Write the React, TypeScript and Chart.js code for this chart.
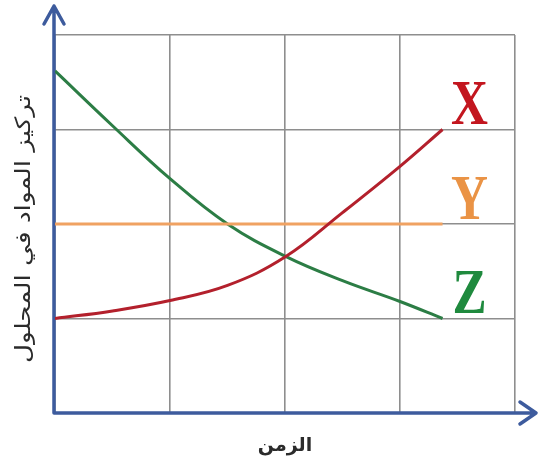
import React, { useEffect, useRef } from "react";
import { Chart, registerables } from "chart.js";

Chart.register(...registerables);

const timeValues = [0, 0.5, 1, 1.5, 2, 2.5, 3, 3.37];
const seriesX = [1.0, 1.08, 1.19, 1.35, 1.65, 2.12, 2.61, 3.0];
const seriesY = [2.0, 2.0, 2.0, 2.0, 2.0, 2.0, 2.0, 2.0];
const seriesZ = [3.62, 3.04, 2.48, 2.0, 1.66, 1.4, 1.18, 1.0];
const seriesNames = ["X", "Y", "Z"];
const lineColors = ["#b3202c", "#f0a262", "#2c7d45"];
const labelColors = ["#c3161f", "#ea9345", "#1f8a3e"];
const xTitle = "الزمن";
const yTitle = "تركيز المواد في المحلول";

const toPoints = (vals: number[]) => vals.map((v, i) => ({ x: timeValues[i], y: v }));

const overlay = {
  id: "overlay",
  beforeDatasetsDraw(chart: any) {
    const { ctx, chartArea } = chart;
    const ox = chartArea.left - 1;
    const oy = chartArea.bottom;
    ctx.save();
    ctx.strokeStyle = "#3d5b9d";
    ctx.lineWidth = 3.5;
    ctx.lineCap = "round";
    ctx.lineJoin = "round";
    ctx.beginPath();
    ctx.moveTo(ox, oy);
    ctx.lineTo(ox, 6);
    ctx.moveTo(ox - 10, 24);
    ctx.lineTo(ox, 6);
    ctx.lineTo(ox + 10, 24);
    ctx.moveTo(ox, oy);
    ctx.lineTo(536, oy);
    ctx.moveTo(520, oy - 11);
    ctx.lineTo(536, oy);
    ctx.lineTo(520, oy + 11);
    ctx.stroke();
    ctx.restore();
  },
  afterDatasetsDraw(chart: any) {
    const { ctx } = chart;
    ctx.save();
    chart.data.datasets.forEach((ds: any, i: number) => {
      const meta = chart.getDatasetMeta(i);
      const last = meta.data[meta.data.length - 1];
      ctx.save();
      ctx.translate(last.x + 27, last.y - 25);
      ctx.scale(0.8, 1);
      ctx.fillStyle = labelColors[i];
      ctx.font = "bold 64px 'Liberation Serif'";
      ctx.textAlign = "center";
      ctx.textBaseline = "middle";
      ctx.fillText(seriesNames[i], 0, 3);
      ctx.restore();
    });
    ctx.fillStyle = "#2b2b2b";
    ctx.font = "bold 19px 'DejaVu Sans'";
    ctx.textAlign = "center";
    ctx.textBaseline = "middle";
    ctx.fillText(xTitle, 285, 446);
    ctx.save();
    ctx.translate(25, 229);
    ctx.rotate(-Math.PI / 2);
    ctx.font = "21px 'DejaVu Sans'";
    const w = ctx.measureText(yTitle).width;
    ctx.scale(268 / w, 1);
    ctx.fillText(yTitle, 0, 0);
    ctx.restore();
    ctx.restore();
  },
};

export default function App() {
  const ref = useRef<HTMLCanvasElement>(null);
  useEffect(() => {
    if (!ref.current) return;
    const datasets = [seriesX, seriesY, seriesZ].map((vals, i) => ({
      label: seriesNames[i],
      data: toPoints(vals),
      borderColor: lineColors[i],
      backgroundColor: lineColors[i],
      borderWidth: 3,
      pointRadius: 0,
      tension: 0.4,
      fill: false,
    }));
    const chart = new Chart(ref.current, {
      type: "line",
      data: { datasets },
      options: {
        animation: false,
        responsive: false,
        devicePixelRatio: 1,
        layout: { padding: { left: 55, right: 25, top: 35, bottom: 52 } },
        plugins: { legend: { display: false }, tooltip: { enabled: false } },
        scales: {
          x: {
            type: "linear",
            min: 0,
            max: 4,
            ticks: { display: false, stepSize: 1 },
            grid: { color: "#8e8e8e", lineWidth: 1.6, drawTicks: false },
            border: { display: false },
          },
          y: {
            type: "linear",
            min: 0,
            max: 4,
            ticks: { display: false, stepSize: 1 },
            grid: { color: "#8e8e8e", lineWidth: 1.6, drawTicks: false },
            border: { display: false },
          },
        },
      },
      plugins: [overlay],
    });
    return () => chart.destroy();
  }, []);
  return (
    <div style={{ position: "fixed", left: 0, top: 0, width: 540, height: 465, background: "#fff" }}>
      <canvas ref={ref} width={540} height={465} />
    </div>
  );
}
